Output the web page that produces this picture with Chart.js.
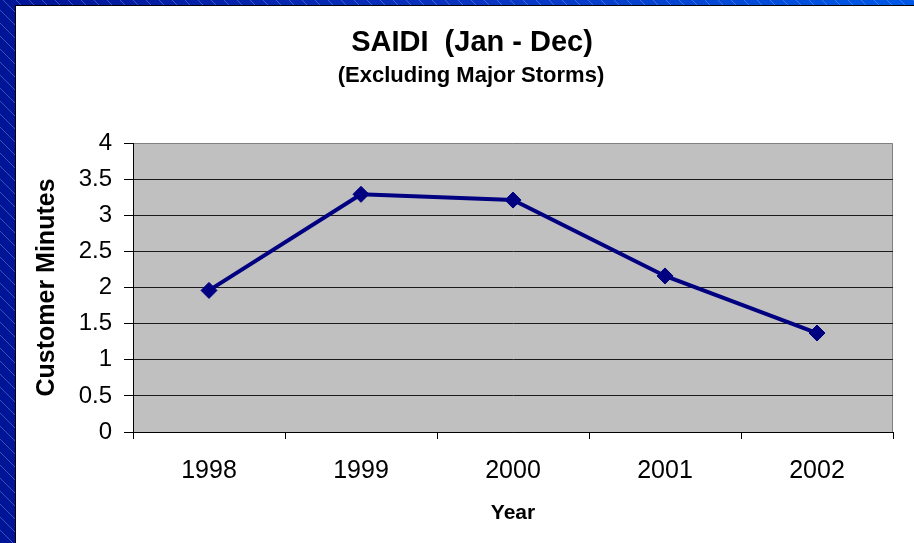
<!DOCTYPE html>
<html>
<head>
<meta charset="utf-8">
<script src="https://cdn.jsdelivr.net/npm/chart.js@4/dist/chart.umd.min.js"></script>
<style>
  html, body { margin: 0; padding: 0; background: #ffffff; overflow: hidden; }
  #wrap { width: 914px; height: 543px; position: relative; }
</style>
</head>
<body>
<div id="wrap"><canvas id="c" width="914" height="543"></canvas></div>
<script>
// ---- data ----
const years = ['1998', '1999', '2000', '2001', '2002'];
const saidiMinutes = [1.96, 3.29, 3.21, 2.16, 1.37];
const titleText = 'SAIDI  (Jan - Dec)';
const subtitleText = '(Excluding Major Storms)';
const yAxisTitle = 'Customer Minutes';
const xAxisTitle = 'Year';
const yMin = 0, yMax = 4, yStep = 0.5;

const FONT = '"Liberation Sans", Arial, Helvetica, sans-serif';

const frame = {
  id: 'frame',
  beforeDraw(chart) {
    const ctx = chart.ctx;
    const W = chart.width, H = chart.height;
    ctx.save();
    const g = ctx.createLinearGradient(0, 0, W, 0);
    g.addColorStop(0, '#001496');
    g.addColorStop(0.5, '#0a33c0');
    g.addColorStop(1, '#0058e6');
    ctx.fillStyle = g;
    ctx.fillRect(0, 0, W, H);
    // diagonal stripes
    ctx.strokeStyle = 'rgba(170,190,255,0.35)';
    ctx.lineWidth = 1;
    for (let k = -H; k < W + H; k += 13) {
      ctx.beginPath();
      ctx.moveTo(k, 0);
      ctx.lineTo(k + H, H);
      ctx.stroke();
    }
    // white panel
    ctx.fillStyle = '#000000';
    ctx.fillRect(15, 5, W - 15, H - 5);
    ctx.fillStyle = '#ffffff';
    ctx.fillRect(16, 6, W - 16, H - 6);
    // plot area
    const a = chart.chartArea;
    ctx.fillStyle = '#c0c0c0';
    ctx.fillRect(a.left, a.top, a.right - a.left, a.bottom - a.top);
    ctx.strokeStyle = '#808080';
    ctx.lineWidth = 1;
    ctx.beginPath();
    ctx.moveTo(a.left, a.top + 0.5);
    ctx.lineTo(a.right - 0.5, a.top + 0.5);
    ctx.lineTo(a.right - 0.5, a.bottom);
    ctx.stroke();
    // titles
    ctx.fillStyle = '#000000';
    ctx.textAlign = 'center';
    ctx.textBaseline = 'middle';
    ctx.font = 'bold 29px ' + FONT;
    ctx.fillText(titleText, 472, 43);
    ctx.font = 'bold 22px ' + FONT;
    ctx.fillText(subtitleText, 471, 76);
    ctx.restore();
  }
};

new Chart(document.getElementById('c'), {
  type: 'line',
  data: {
    labels: years,
    datasets: [{
      data: saidiMinutes,
      borderColor: '#000080',
      backgroundColor: '#000080',
      borderWidth: 4,
      pointStyle: 'rectRot',
      pointRadius: 8,
      pointHoverRadius: 8,
      pointBorderWidth: 1,
      tension: 0,
      fill: false
    }]
  },
  plugins: [frame],
  options: {
    responsive: false,
    animation: false,
    events: [],
    layout: { padding: { left: 16, right: 21, top: 143, bottom: 0 } },
    plugins: {
      legend: { display: false },
      tooltip: { enabled: false },
      title: { display: false }
    },
    scales: {
      x: {
        type: 'category',
        offset: true,
        grid: {
          offset: true,
          drawOnChartArea: false,
          drawTicks: true,
          tickLength: 7,
          tickColor: '#000000'
        },
        border: { display: true, color: '#000000', width: 1 },
        ticks: {
          color: '#000000',
          font: { family: FONT, size: 25 },
          padding: 17,
          maxRotation: 0
        },
        title: {
          display: true,
          text: xAxisTitle,
          color: '#000000',
          font: { family: FONT, size: 21, weight: 'bold' },
          padding: { top: 0, bottom: 17 }
        },
        afterFit(scale) { scale.height = 111; }
      },
      y: {
        min: yMin,
        max: yMax,
        ticks: {
          stepSize: yStep,
          color: '#000000',
          font: { family: FONT, size: 24 },
          padding: 12,
          callback: (v) => String(v)
        },
        grid: {
          color: (c) => (c.tick && c.tick.value === yMax) ? 'rgba(0,0,0,0)' : '#1a1a1a',
          lineWidth: 1,
          tickLength: 9,
          tickColor: '#000000'
        },
        border: { display: true, color: '#000000', width: 1 },
        title: {
          display: true,
          text: yAxisTitle,
          color: '#000000',
          font: { family: FONT, size: 25, weight: 'bold' },
          padding: { top: 16, bottom: 0 }
        },
        afterFit(scale) { scale.width = 117; }
      }
    }
  }
});
</script>
</body>
</html>
